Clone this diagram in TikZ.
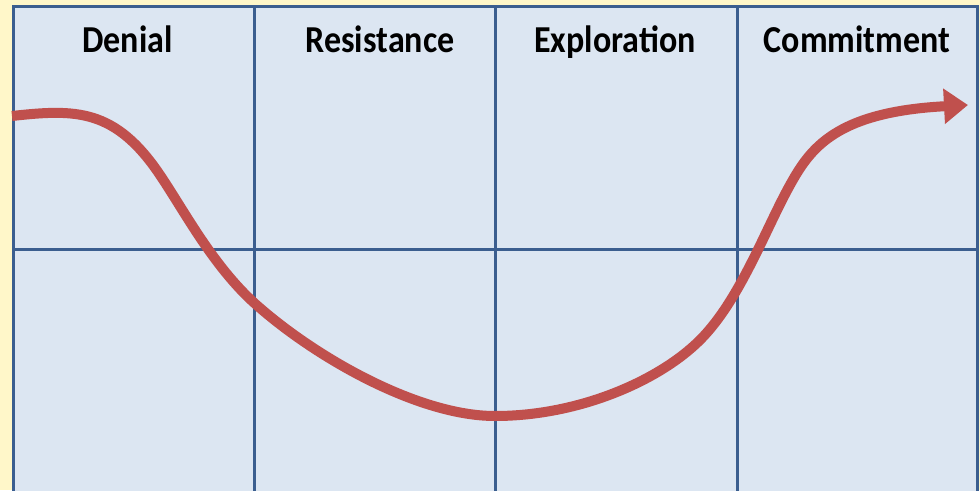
\documentclass[tikz,border=0pt]{standalone}
\usepackage{fontspec}
\setmainfont{Carlito}
\usetikzlibrary{arrows.meta}
\definecolor{bgyellow}{HTML}{FFF7C9}
\definecolor{cellblue}{HTML}{DCE6F2}
\definecolor{gridblue}{HTML}{3B5E8F}
\definecolor{curvered}{HTML}{C0504D}
\tikzset{
  gridline/.style={draw=gridblue, line width=3pt},
  stagelabel/.style={anchor=base, font=\fontsize{34}{40}\selectfont\bfseries, text=black, inner sep=0pt},
  curve/.style={draw=curvered, line width=10pt, -{Triangle[length=24pt,width=34pt]}}
}
\newcommand{\stagetext}[1]{\scalebox{1}[1.12]{#1}}
\begin{document}
\begin{tikzpicture}[x=1pt,y=-1pt]
\useasboundingbox (0,0) rectangle (980,490);
\fill[bgyellow] (0,0) rectangle (980,490);
\begin{scope}
\clip (0,0) rectangle (980,490);
\fill[cellblue] (13.5,6) rectangle (977.5,495);
\draw[gridline] (13.5,495) -- (13.5,6) -- (977.5,6) -- (977.5,495);
\draw[gridline] (254,6) -- (254,495);
\draw[gridline] (495,6) -- (495,495);
\draw[gridline] (737,6) -- (737,495);
\draw[gridline] (13.5,249) -- (977.5,249);
\end{scope}
\node[stagelabel] (denial) at (127.5,52) {\stagetext{Denial}};
\node[stagelabel] (resistance) at (380,52) {\stagetext{Resistance}};
\node[stagelabel] (exploration) at (615,52) {\stagetext{Exploration}};
\node[stagelabel] (commitment) at (857,52) {\stagetext{Commitment}};
\coordinate (start) at (12,116);
\coordinate (tip) at (968,105);
\draw[curve] (start) .. controls (75,109) and (115,108) .. (160,175)
  .. controls (185,212) and (215,270) .. (260,308)
  .. controls (320,360) and (420,416) .. (495,416)
  .. controls (580,416) and (660,380) .. (700,340)
  .. controls (740,300) and (765,230) .. (790,185)
  .. controls (810,149) and (835,112) .. (tip);
\end{tikzpicture}
\end{document}
